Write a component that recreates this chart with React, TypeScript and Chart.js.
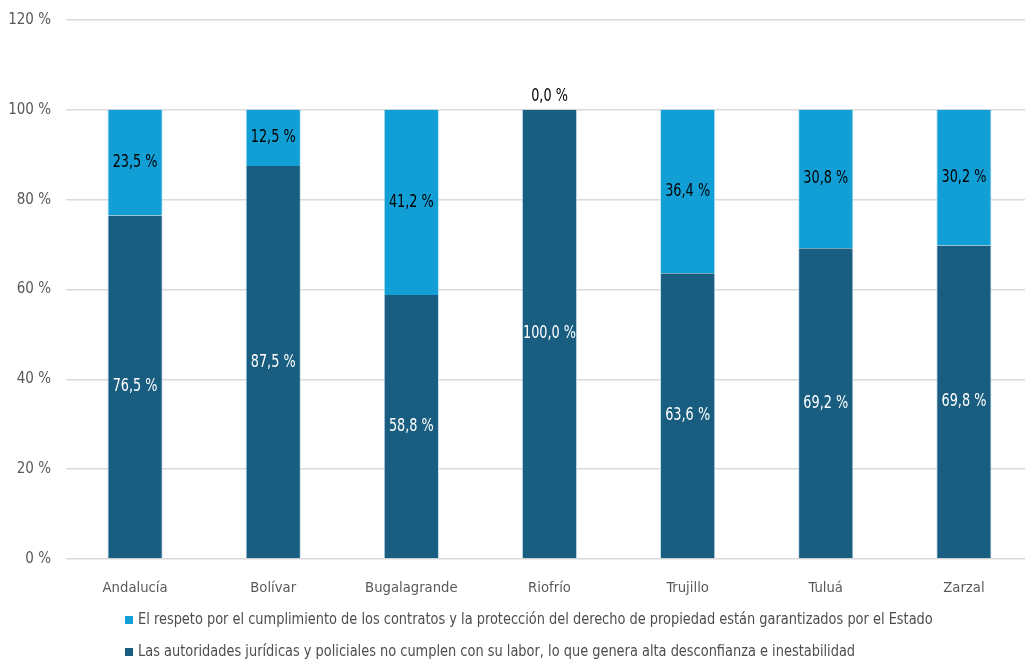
import React, { useEffect, useRef } from "react";
import { Chart, registerables } from "chart.js";

Chart.register(...registerables);

const categories = ["Andalucía", "Bolívar", "Bugalagrande", "Riofrío", "Trujillo", "Tuluá", "Zarzal"];
const respetoValues = [23.5, 12.5, 41.2, 0.0, 36.4, 30.8, 30.2];
const autoridadesValues = [76.5, 87.5, 58.8, 100.0, 63.6, 69.2, 69.8];
const respetoLabel =
  "El respeto por el cumplimiento de los contratos y la protección del derecho de propiedad están garantizados por el Estado";
const autoridadesLabel =
  "Las autoridades jurídicas y policiales no cumplen con su labor, lo que genera alta desconfianza e inestabilidad";
const yTicks = [0, 20, 40, 60, 80, 100, 120];

const LIGHT = "#129fd6";
const DARK = "#195e80";
const FONT = "'Liberation Sans Narrow', 'Arial Narrow', 'DejaVu Sans Condensed', sans-serif";

const fmt = (v: number) => v.toFixed(1).replace(".", ",") + " %";

function drawNarrow(ctx: any, text: string, x: number, y: number, sx: number) {
  ctx.save();
  ctx.translate(x, y);
  ctx.scale(sx, 1);
  ctx.fillText(text, 0, 0);
  ctx.restore();
}

const labelPlugin = {
  id: "barLabels",
  afterDatasetsDraw(chart: any) {
    const ctx = chart.ctx;
    ctx.save();
    ctx.font = `17px ${FONT}`;
    ctx.textAlign = "center";
    ctx.textBaseline = "middle";
    chart.data.datasets.forEach((ds: any, di: number) => {
      const meta = chart.getDatasetMeta(di);
      meta.data.forEach((el: any, i: number) => {
        const v = ds.data[i];
        if (v === 0) {
          ctx.fillStyle = "#000000";
          drawNarrow(ctx, fmt(v), el.x, el.y - 13, 0.84);
        } else {
          ctx.fillStyle = ds.labelColor;
          drawNarrow(ctx, fmt(v), el.x, (el.y + el.base) / 2, 0.84);
        }
      });
    });
    ctx.restore();
  },
};

const legendPlugin = {
  id: "customLegend",
  afterDraw(chart: any) {
    const ctx = chart.ctx;
    ctx.save();
    const items = [
      { color: LIGHT, text: respetoLabel, y: 620 },
      { color: DARK, text: autoridadesLabel, y: 652 },
    ];
    ctx.font = `16px ${FONT}`;
    ctx.textAlign = "left";
    ctx.textBaseline = "middle";
    items.forEach((it) => {
      ctx.fillStyle = it.color;
      ctx.fillRect(125, it.y - 4, 8, 8);
      ctx.fillStyle = "#4d4d4d";
      drawNarrow(ctx, it.text, 138, it.y, 0.9);
    });
    ctx.restore();
  },
};

export default function App() {
  const ref = useRef<HTMLCanvasElement>(null);
  useEffect(() => {
    if (!ref.current) return;
    const chart = new Chart(ref.current, {
      type: "bar",
      data: {
        labels: categories,
        datasets: [
          {
            label: autoridadesLabel,
            data: autoridadesValues,
            backgroundColor: DARK,
            borderColor: "rgba(190,220,235,0.9)",
            borderWidth: { left: 1, right: 1, top: 0, bottom: 0 },
            labelColor: "#ffffff",
          } as any,
          {
            label: respetoLabel,
            data: respetoValues,
            backgroundColor: LIGHT,
            borderColor: "rgba(190,225,240,0.9)",
            borderWidth: { left: 1, right: 1, top: 0, bottom: 0 },
            labelColor: "#000000",
          } as any,
        ],
      },
      options: {
        responsive: false,
        animation: false,
        layout: { padding: { top: 20, right: 7, left: 0, bottom: 0 } },
        plugins: { legend: { display: false }, tooltip: { enabled: false } },
        datasets: { bar: { barPercentage: 0.4, categoryPercentage: 1 } },
        scales: {
          x: {
            stacked: true,
            grid: { display: false },
            border: { display: false },
            ticks: { color: "#595959", font: { family: FONT, size: 14.7 }, padding: 12 },
            afterFit: (s: any) => {
              s.height = 104;
              s.paddingLeft = 0;
              s.paddingRight = 0;
            },
          },
          y: {
            stacked: true,
            min: 0,
            max: 120,
            afterBuildTicks: (s: any) => {
              s.ticks = yTicks.map((v) => ({ value: v }));
            },
            grid: { color: "#d9d9d9", lineWidth: 1.5, drawTicks: false },
            border: { display: false },
            ticks: {
              color: "#595959",
              font: { family: FONT, size: 15 },
              padding: 15,
              callback: (v: any) => `${v} %`,
            },
            afterFit: (s: any) => {
              s.width = 66;
              s.paddingTop = 0;
              s.paddingBottom = 0;
            },
          },
        },
      },
      plugins: [labelPlugin, legendPlugin],
    });
    return () => chart.destroy();
  }, []);
  return (
    <div style={{ position: "fixed", left: 0, top: 0, width: 1025, height: 663, overflow: "hidden", background: "#fff" }}>
      <canvas ref={ref} width={1040} height={663} style={{ display: "block" }} />
    </div>
  );
}
